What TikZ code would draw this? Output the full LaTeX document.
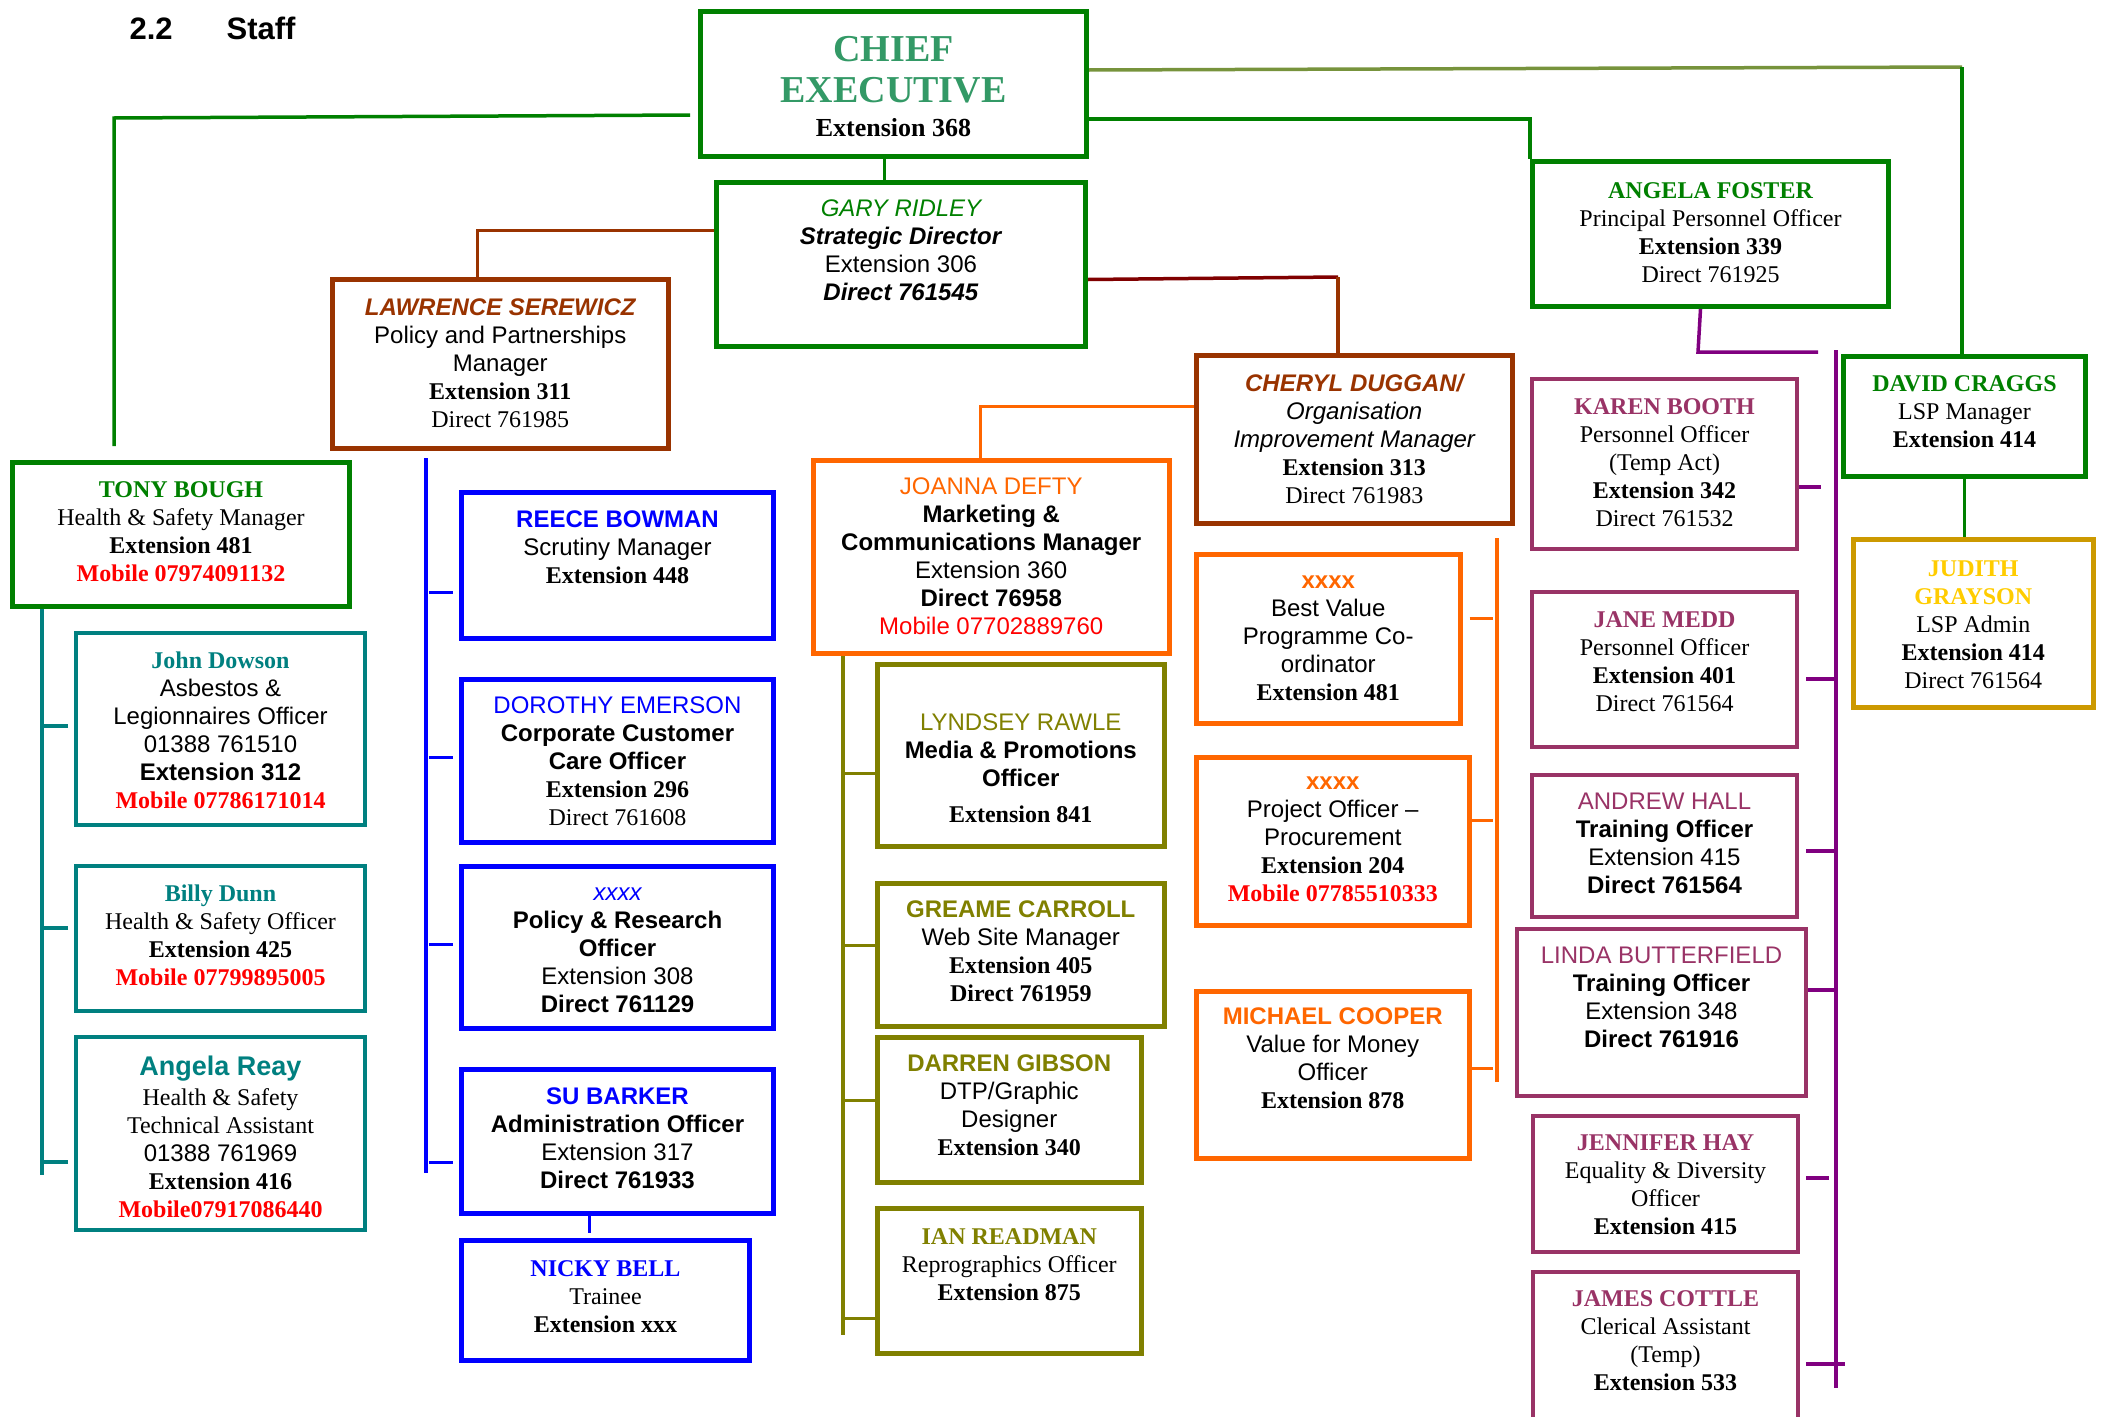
\documentclass[tikz,border=0pt]{standalone}
\usepackage{fontspec}
\setmainfont{Liberation Serif}
\setsansfont{Liberation Sans}
\definecolor{cgreen}{HTML}{008000}
\definecolor{csea}{HTML}{339966}
\definecolor{cbrown}{HTML}{993300}
\definecolor{cmaroon}{HTML}{800000}
\definecolor{cteal}{HTML}{008080}
\definecolor{cblue}{HTML}{0000FF}
\definecolor{corange}{HTML}{FF6600}
\definecolor{colive}{HTML}{808000}
\definecolor{cpurple}{HTML}{800080}
\definecolor{cplum}{HTML}{993366}
\definecolor{cgold}{HTML}{CC9900}
\definecolor{cyellow}{HTML}{FFCC00}
\definecolor{cmoss}{HTML}{77933C}
\definecolor{cred}{HTML}{FF0000}
% box text: width, height, first baseline from top, lines
\newcommand{\boxtext}[4]{\parbox[c][#2][t]{#1}{\centering\rule{0pt}{#3}#4}}
\tikzset{
  staffbox/.style={draw=#1, line width=4.5pt, inner sep=0pt, anchor=north west,
    font=\fontsize{24}{28}\selectfont},
  link/.style={draw=#1, line width=3.5pt},
}

\begin{document}
\begin{tikzpicture}[x=1pt, y=-1pt]
  % 1 px of the page = 1 pt, y runs downwards
  \useasboundingbox (0,0) rectangle (2101,1416);
  \node[anchor=base west, font=\sffamily\bfseries\fontsize{31}{36}\selectfont] (title) at (126,39) {2.2\hspace{54pt}Staff};

  % chief executive and first line
  \node[staffbox=cgreen, line width=5pt] (chief) at (698,9) {\boxtext{386pt}{145pt}{50pt}{\fontsize{38}{41}\selectfont\bfseries\color{csea}CHIEF\\ EXECUTIVE\\ \fontsize{26}{34}\selectfont\color{black}Extension 368}};
  \node[staffbox=cgreen, line width=5pt] (gary) at (714,180) {\boxtext{369pt}{164pt}{34pt}{\sffamily{\color{cgreen}\itshape GARY RIDLEY}\\ \textbf{\textit{Strategic Director}}\\ Extension 306\\ \textbf{\textit{Direct 761545}}}};
  \node[staffbox=cbrown] (lawrence) at (330,277) {\boxtext{336pt}{169pt}{36pt}{{\sffamily\bfseries\itshape\color{cbrown}LAWRENCE SEREWICZ}\\ \textsf{Policy and Partnerships}\\ \textsf{Manager}\\ \textbf{Extension 311}\\ Direct 761985}};
  \node[staffbox=cgreen, line width=5pt] (angela) at (1530,159) {\boxtext{356pt}{145pt}{37pt}{{\bfseries\color{cgreen}ANGELA FOSTER}\\ Principal Personnel Officer\\ \textbf{Extension 339}\\ Direct 761925}};
  \node[staffbox=cbrown] (cheryl) at (1194,353) {\boxtext{316pt}{168pt}{36pt}{{\sffamily\itshape{\bfseries\color{cbrown}CHERYL DUGGAN/}\\ Organisation\\ Improvement Manager}\\ \textbf{Extension 313}\\ Direct 761983}};
  \node[staffbox=cgreen, line width=5pt] (david) at (1841,354) {\boxtext{242pt}{120pt}{35pt}{{\bfseries\color{cgreen}DAVID CRAGGS}\\ LSP Manager\\ \textbf{Extension 414}}};
  \node[staffbox=cgold] (judith) at (1851,537) {\boxtext{240pt}{168pt}{37pt}{{\bfseries\color{cyellow}JUDITH\\ GRAYSON}\\ LSP Admin\\ \textbf{Extension 414}\\ Direct 761564}};

  % health and safety
  \node[staffbox=cgreen, line width=5pt] (tony) at (10,460) {\boxtext{337pt}{144pt}{35pt}{{\bfseries\color{cgreen}TONY BOUGH}\\ Health \& Safety Manager\\ \textbf{Extension 481}\\ {\bfseries\color{cred}Mobile 07974091132}}};
  \node[staffbox=cteal, line width=4pt] (dowson) at (74,631) {\boxtext{289pt}{192pt}{35pt}{{\bfseries\color{cteal}John Dowson}\\ {\sffamily Asbestos \&\\ Legionnaires Officer\\ 01388 761510\\ \bfseries Extension 312}\\ {\bfseries\color{cred}Mobile 07786171014}}};
  \node[staffbox=cteal, line width=4pt] (dunn) at (74,864) {\boxtext{289pt}{145pt}{35pt}{{\bfseries\color{cteal}Billy Dunn}\\ Health \& Safety Officer\\ \textbf{Extension 425}\\ {\bfseries\color{cred}Mobile 07799895005}}};
  \node[staffbox=cteal, line width=4pt] (reay) at (74,1035) {\boxtext{289pt}{193pt}{38pt}{{\fontsize{27}{28}\selectfont\sffamily\bfseries\color{cteal}Angela Reay}\\[2pt] Health \& Safety\\ Technical Assistant\\ \textsf{01388 761969}\\ \textbf{Extension 416}\\ {\bfseries\color{cred}Mobile07917086440}}};

  % policy team
  \node[staffbox=cblue, line width=5pt] (reece) at (459,490) {\boxtext{312pt}{146pt}{35pt}{{\sffamily\bfseries\color{cblue}REECE BOWMAN}\\ \textsf{Scrutiny Manager}\\ \textbf{Extension 448}}};
  \node[staffbox=cblue, line width=5pt] (dorothy) at (459,677) {\boxtext{312pt}{163pt}{34pt}{{\sffamily\color{cblue}DOROTHY EMERSON}\\ {\sffamily\bfseries Corporate Customer\\ Care Officer}\\ \textbf{Extension 296}\\ Direct 761608}};
  \node[staffbox=cblue, line width=5pt] (policy) at (459,864) {\boxtext{312pt}{162pt}{34pt}{\sffamily{\itshape\color{cblue}xxxx}\\ {\bfseries Policy \& Research\\ Officer}\\ Extension 308\\ \textbf{Direct 761129}}};
  \node[staffbox=cblue, line width=5pt] (barker) at (459,1067) {\boxtext{312pt}{144pt}{35pt}{\sffamily{\bfseries\color{cblue}SU BARKER}\\ \textbf{Administration Officer}\\ Extension 317\\ \textbf{Direct 761933}}};
  \node[staffbox=cblue, line width=5pt] (nicky) at (459,1238) {\boxtext{288pt}{120pt}{36pt}{{\bfseries\color{cblue}NICKY BELL}\\ Trainee\\ \textbf{Extension xxx}}};

  % marketing team
  \node[staffbox=corange] (joanna) at (811,458) {\boxtext{356pt}{193pt}{34pt}{\sffamily{\color{corange}JOANNA DEFTY}\\ {\bfseries Marketing \&\\ Communications Manager}\\ Extension 360\\ \textbf{Direct 76958}\\ {\color{cred}Mobile 07702889760}}};
  \node[staffbox=colive] (rawle) at (875,662) {\boxtext{287pt}{182pt}{66pt}{{\sffamily\color{colive}LYNDSEY RAWLE}\\ {\sffamily\bfseries Media \& Promotions\\ Officer}\\[8pt] \textbf{Extension 841}}};
  \node[staffbox=colive] (carroll) at (875,881) {\boxtext{287pt}{143pt}{34pt}{{\sffamily\bfseries\color{colive}GREAME CARROLL}\\ \textsf{Web Site Manager}\\ \textbf{Extension 405}\\ \textbf{Direct 761959}}};
  \node[staffbox=colive] (gibson) at (875,1035) {\boxtext{264pt}{145pt}{34pt}{{\sffamily\bfseries\color{colive}DARREN GIBSON}\\ {\sffamily DTP/Graphic\\ Designer}\\ \textbf{Extension 340}}};
  \node[staffbox=colive] (readman) at (875,1206) {\boxtext{264pt}{145pt}{36pt}{{\bfseries\color{colive}IAN READMAN}\\ Reprographics Officer\\ \textbf{Extension 875}}};

  % improvement team
  \node[staffbox=corange] (bestvalue) at (1194,552) {\boxtext{264pt}{169pt}{34pt}{{\sffamily\bfseries\color{corange}xxxx}\\ {\sffamily Best Value\\ Programme Co-\\ ordinator}\\ \textbf{Extension 481}}};
  \node[staffbox=corange] (project) at (1194,755) {\boxtext{273pt}{168pt}{32pt}{{\sffamily\bfseries\color{corange}xxxx}\\ {\sffamily Project Officer –\\ Procurement}\\ \textbf{Extension 204}\\ {\bfseries\color{cred}Mobile 07785510333}}};
  \node[staffbox=corange] (cooper) at (1194,989) {\boxtext{273pt}{167pt}{33pt}{{\sffamily\bfseries\color{corange}MICHAEL COOPER}\\ {\sffamily Value for Money\\ Officer}\\ \textbf{Extension 878}}};

  % personnel team
  \node[staffbox=cplum, line width=4pt] (karen) at (1530,377) {\boxtext{265pt}{170pt}{35pt}{{\bfseries\color{cplum}KAREN BOOTH}\\ Personnel Officer\\ (Temp Act)\\ \textbf{Extension 342}\\ Direct 761532}};
  \node[staffbox=cplum, line width=4pt] (jane) at (1530,590) {\boxtext{265pt}{155pt}{35pt}{{\bfseries\color{cplum}JANE MEDD}\\ Personnel Officer\\ \textbf{Extension 401}\\ Direct 761564}};
  \node[staffbox=cplum, line width=4pt] (andrew) at (1530,773) {\boxtext{265pt}{142pt}{34pt}{\sffamily{\color{cplum}ANDREW HALL}\\ \textbf{Training Officer}\\ Extension 415\\ \textbf{Direct 761564}}};
  \node[staffbox=cplum, line width=4pt] (linda) at (1515,927) {\boxtext{289pt}{167pt}{34pt}{\sffamily{\color{cplum}LINDA BUTTERFIELD}\\ \textbf{Training Officer}\\ Extension 348\\ \textbf{Direct 761916}}};
  \node[staffbox=cplum, line width=4pt] (jennifer) at (1531,1114) {\boxtext{265pt}{136pt}{34pt}{{\bfseries\color{cplum}JENNIFER HAY}\\ Equality \& Diversity\\ Officer\\ \textbf{Extension 415}}};
  \node[staffbox=cplum, line width=4pt] (james) at (1531,1270) {\boxtext{265pt}{170pt}{34pt}{{\bfseries\color{cplum}JAMES COTTLE}\\ Clerical Assistant\\ (Temp)\\ \textbf{Extension 533}}};

  % bends and free ends of the connectors
  \coordinate (hsTop) at (114,118);
  \coordinate (hsEnd) at (114,446);
  \coordinate (gcBend) at (1338,277);
  \coordinate (cdBend) at (1962,67);
  \coordinate (apBend) at (1698,352);
  \coordinate (apEnd) at (1818,352);
  \coordinate (pTop) at (1836,350);
  \coordinate (pBot) at (1836,1388);
  \coordinate (oTop) at (1497,538);
  \coordinate (oBot) at (1497,1082);
  \coordinate (olEnd) at (843,1335);
  \coordinate (tlEnd) at (42,1175);
  \coordinate (bTop) at (426,458);
  \coordinate (bBot) at (426,1173);

  % lines from the chief executive
  \draw[link=cgreen] ([shift={(-8pt,-31pt)}]chief.west) -- (hsTop) -- (hsEnd);
  \draw[link=cgreen] ([xshift=-9pt]chief.south) -- ++(0,21);
  \draw[link=cgreen] ([yshift=-35pt]chief.east) -| (angela.north west);
  \draw[link=cmoss] ([yshift=14pt]chief.east) -- (cdBend);
  \draw[link=cgreen] (cdBend) -- (cdBend |- david.north);
  \draw[link=cgreen] (david.south) -- (david.south |- judith.north);
  % strategic director
  \draw[link=cbrown] ([yshift=34pt]gary.west) -| ([xshift=-23pt]lawrence.north);
  \draw[link=cmaroon] ([yshift=-15pt]gary.east) -- (gcBend);
  \draw[link=cbrown] (gcBend) -- (gcBend |- cheryl.north);
  \draw[link=corange] ([yshift=33pt]cheryl.west) -| ([xshift=-11pt]joanna.north);

  % health and safety
  \draw[link=cteal] (tlEnd |- tony.south) -- (tlEnd);
  \foreach \n/\dy in {dowson/3, dunn/10.5, reay/-28.5}
    \draw[link=cteal] ([shift={(-6pt,\dy pt)}]\n.west) -- ++(-24,0);
  % policy team
  \draw[link=cblue] (bTop) -- (bBot);
  \foreach \n/\dy in {reece/-27, dorothy/3.5, policy/3, barker/-21}
    \draw[link=cblue] ([shift={(-6.5pt,\dy pt)}]\n.west) -- ++(-24,0);
  \draw[link=cblue] ([shift={(-28pt,3pt)}]barker.south) -- ++(0,20);
  % marketing team
  \draw[link=colive] (olEnd |- joanna.south) -- (olEnd);
  \foreach \n/\dy in {rawle/-18, carroll/9.5, gibson/9.5, readman/-37.5}
    \draw[link=colive] ([yshift=\dy pt]\n.west) -- ++(-30,0);
  % improvement team
  \draw[link=corange] (oTop) -- (oBot);
  \foreach \n/\dx/\dy/\len in {bestvalue/7/20.5/23, project/0/21/21, cooper/0/6.5/21}
    \draw[link=corange] ([shift={(\dx pt,\dy pt)}]\n.east) -- ++(\len,0);
  % personnel team
  \draw[link=cpurple] ([xshift=-10pt]angela.south) -- (apBend) -- (apEnd);
  \draw[link=cpurple] (pTop) -- (pBot);
  \foreach \n/\dx/\dy/\len in {karen/0/-23/22, jane/7/-9.5/32, andrew/7/-5/32, linda/0/22.5/30, jennifer/6/6/23, james/6/-7/39}
    \draw[link=cpurple] ([shift={(\dx pt,\dy pt)}]\n.east) -- ++(\len,0);
\end{tikzpicture}
\end{document}
